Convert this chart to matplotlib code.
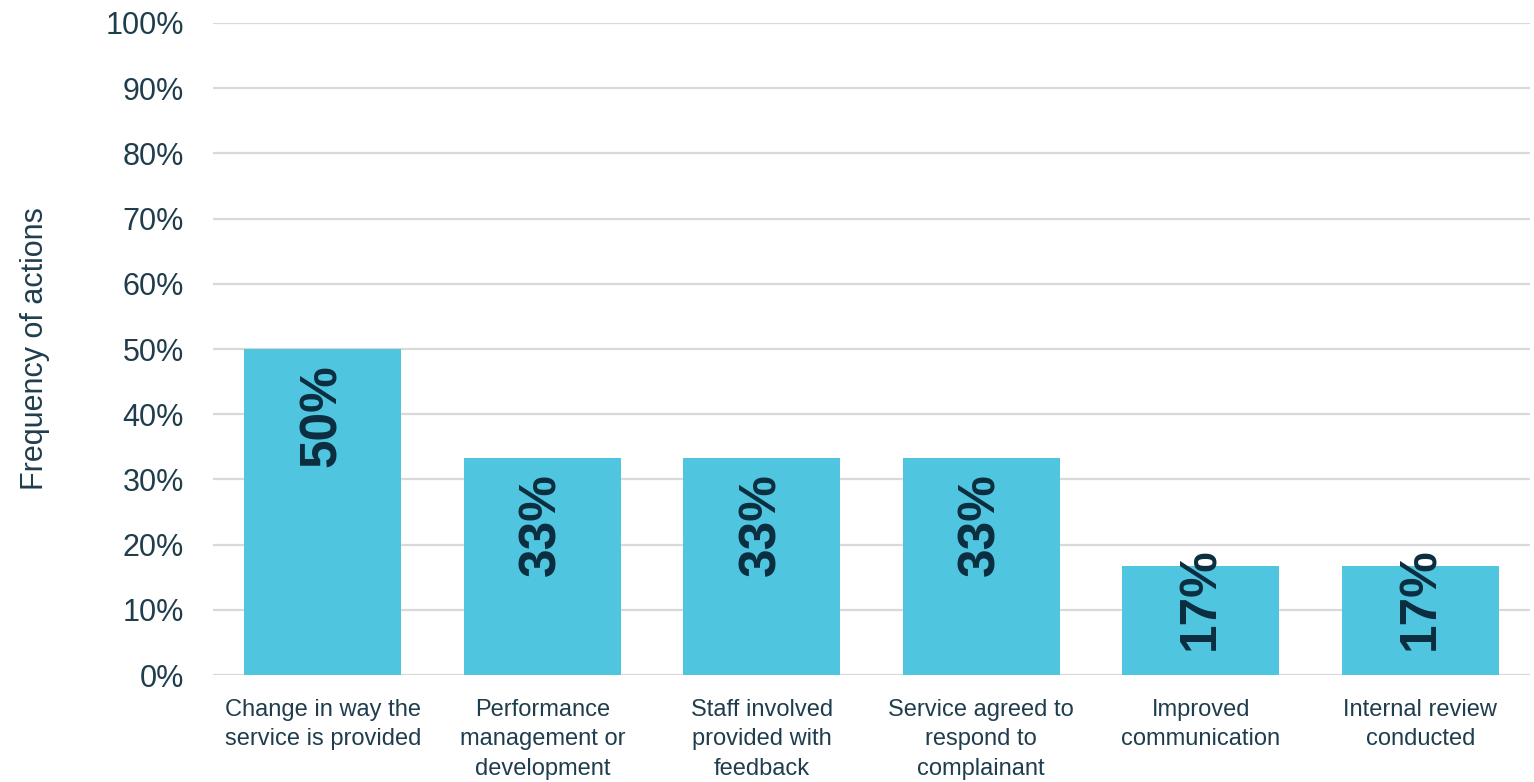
import matplotlib as mpl
import matplotlib.pyplot as plt
from matplotlib.ticker import PercentFormatter

mpl.rcParams['font.family'] = ['Liberation Sans', 'DejaVu Sans']

categories = [
    'Change in way the\nservice is provided',
    'Performance\nmanagement or\ndevelopment',
    'Staff involved\nprovided with\nfeedback',
    'Service agreed to\nrespond to\ncomplainant',
    'Improved\ncommunication',
    'Internal review\nconducted',
]
values = [50.0, 33.3, 33.3, 33.3, 16.7, 16.7]
labels = ['50%', '33%', '33%', '33%', '17%', '17%']

BAR = '#4fc5df'
DARK = '#0b2e3f'
TICK = '#1f3d4d'
GRID = '#d9d9d9'

fig = plt.figure(figsize=(15.34, 7.82), dpi=100)
ax = fig.add_axes([0.1389, 0.1368, 0.8585, 0.8338])

x = range(len(categories))
ax.bar(x, values, width=0.715, color=BAR, zorder=2)

# labels sit near the top of each bar, pushed down to stay inside short ones
for xi, v, lab in zip(x, values, labels):
    ytop = max(v - 2.3, 19.6)
    ax.text(xi, ytop, lab, rotation=90, ha='center', va='top',
            fontsize=37, fontweight='bold', color=DARK, zorder=3)

ax.set_xlim(-0.5, len(categories) - 0.5)
ax.set_ylim(0, 100)
ax.set_yticks(range(0, 101, 10))
ax.yaxis.set_major_formatter(PercentFormatter(decimals=0))
ax.set_xticks(list(x))
ax.set_xticklabels(categories, fontsize=17, color=TICK, linespacing=1.45)
ax.tick_params(axis='y', labelsize=22, labelcolor=TICK, length=0, pad=21)
ax.tick_params(axis='x', length=0, pad=17)
ax.grid(axis='y', color=GRID, linewidth=1.6, zorder=0)
for s in ax.spines.values():
    s.set_visible(False)
ax.set_ylabel('Frequency of actions', fontsize=22, color=TICK, labelpad=40)

fig.savefig('out.png', dpi=100)
